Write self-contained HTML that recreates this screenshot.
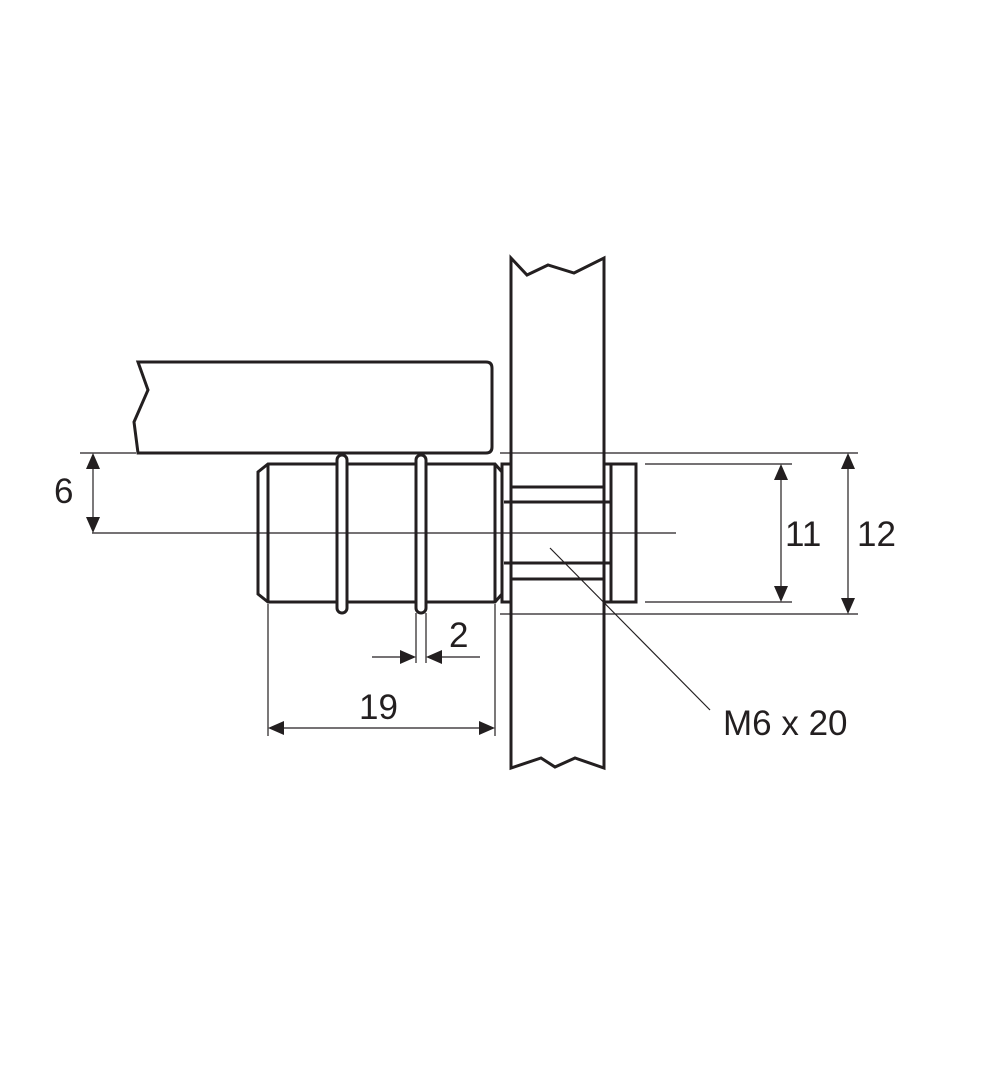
<!DOCTYPE html>
<html><head><style>body{margin:0;background:#fff}svg{display:block}</style></head><body>
<svg width="988" height="1066" viewBox="0 0 988 1066" xmlns="http://www.w3.org/2000/svg" font-family="Liberation Sans, sans-serif">
<rect width="988" height="1066" fill="#fff"/>
<g fill="none" stroke="#231f20" stroke-width="3" stroke-linejoin="miter">
<path d="M138,362 L486,362 Q492,362 492,368 L492,447 Q492,453 486,453 L138,453 L134,422 L148,390 L138,362 Z"/>
<path d="M511,258 L527,275 L548,265 L574,273 L604,258 L604,768 L575,758 L555,767 L541,758 L511,768 Z"/>
<path d="M268,464 L495,464 L502,472 L502,594 L495,602 L268,602 L258,594 L258,472 Z"/>
<line x1="268" y1="464" x2="268" y2="602"/>
<line x1="495" y1="464" x2="495" y2="602"/>
<rect x="337" y="455" width="10" height="158" rx="5" fill="#fff"/>
<rect x="416" y="455" width="10" height="158" rx="5" fill="#fff"/>
<rect x="502" y="464" width="9" height="138" fill="#fff"/>
<rect x="604" y="464" width="7" height="138" fill="#fff"/>
<rect x="611" y="464" width="25" height="138" fill="#fff"/>
<line x1="511" y1="487" x2="604" y2="487"/>
<line x1="504" y1="502" x2="611" y2="502"/>
<line x1="504" y1="563" x2="611" y2="563"/>
<line x1="511" y1="579" x2="604" y2="579"/>
</g>
<g stroke="#231f20" stroke-width="1.2" fill="none">
<line x1="92" y1="533" x2="676" y2="533"/>
<line x1="80" y1="453" x2="136" y2="453"/>
<line x1="500" y1="453" x2="858" y2="453"/>
<line x1="500" y1="614" x2="858" y2="614"/>
<line x1="645" y1="464" x2="792" y2="464"/>
<line x1="645" y1="602" x2="792" y2="602"/>
<line x1="93" y1="455" x2="93" y2="531"/>
<line x1="781" y1="466" x2="781" y2="600"/>
<line x1="848" y1="455" x2="848" y2="612"/>
<line x1="268" y1="604" x2="268" y2="736"/>
<line x1="495" y1="604" x2="495" y2="736"/>
<line x1="270" y1="728" x2="493" y2="728"/>
<line x1="416" y1="613" x2="416" y2="663"/>
<line x1="426" y1="613" x2="426" y2="663"/>
<line x1="372" y1="657" x2="414" y2="657"/>
<line x1="428" y1="657" x2="480" y2="657"/>
<line x1="550" y1="548" x2="710" y2="710"/>
</g>
<g fill="#231f20">
<path d="M93,453 L86,469 L100,469 Z"/><path d="M93,533 L86,517 L100,517 Z"/>
<path d="M781,464 L774,480 L788,480 Z"/><path d="M781,602 L774,586 L788,586 Z"/>
<path d="M848,453 L841,469 L855,469 Z"/><path d="M848,614 L841,598 L855,598 Z"/>
<path d="M268,728 L284,721 L284,735 Z"/><path d="M495,728 L479,721 L479,735 Z"/>
<path d="M416,657 L400,650 L400,664 Z"/><path d="M426,657 L442,650 L442,664 Z"/>
</g>
<g fill="#231f20" font-size="35">
<text x="54" y="503">6</text>
<text x="785" y="546">11</text>
<text x="857" y="546">12</text>
<text x="359" y="719">19</text>
<text x="449" y="647">2</text>
<text x="723" y="735">M6 x 20</text>
</g>
</svg>
</body></html>
